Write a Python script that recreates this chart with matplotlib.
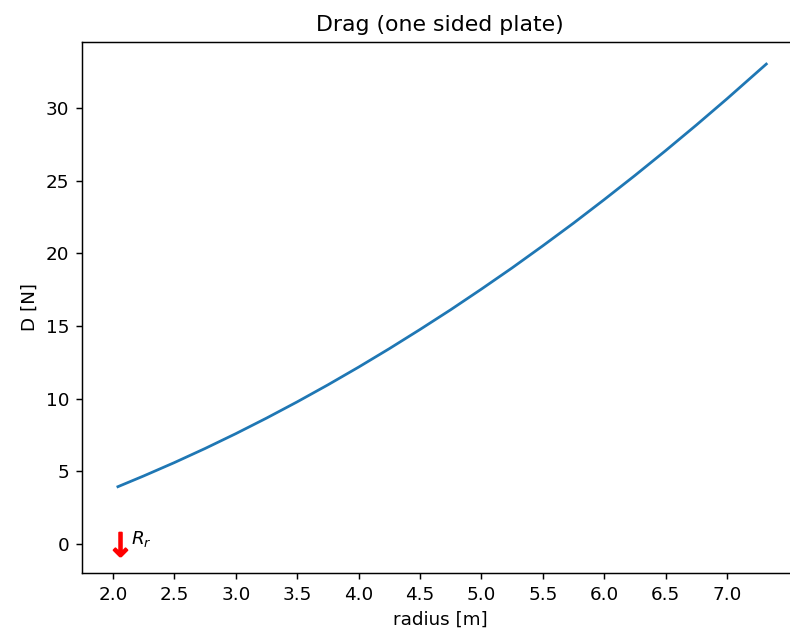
import numpy as np
import matplotlib
matplotlib.use("Agg")
import matplotlib.pyplot as plt

# radius [m] and drag [N]
radius = [2.04, 2.25, 2.5, 2.75, 3.0, 3.25, 3.5, 3.75, 4.0, 4.25, 4.5, 4.75,
          5.0, 5.25, 5.5, 5.75, 6.0, 6.25, 6.5, 6.75, 7.0, 7.32]
drag = [3.94, 4.68, 5.60, 6.57, 7.59, 8.66, 9.78, 10.95, 12.17, 13.44, 14.76, 16.12,
        17.54, 19.00, 20.52, 22.08, 23.70, 25.36, 27.07, 28.83, 30.64, 33.03]
R_r = 2.055

fig = plt.figure(figsize=(790 / 132, 639 / 132))
ax = fig.add_axes([0.1038, 0.1033, 0.9063, 0.831])
ax.plot(radius, drag)
ax.plot(R_r, 0, marker=r'$\downarrow$', color='red', markersize=13)
ax.text(R_r + 0.09, 0, r'$R_r$')
ax.set_xlim(1.7476, 7.578)
ax.set_ylim(-2.0, 34.55)
ax.set_xticks(np.arange(2.0, 7.01, 0.5))
ax.set_xlabel("radius [m]")
ax.set_ylabel("D [N]")
ax.set_title("Drag (one sided plate)")
# the reference is cropped just before the right spine
ax.spines['right'].set_visible(False)
fig.savefig("out.png", dpi=132)
